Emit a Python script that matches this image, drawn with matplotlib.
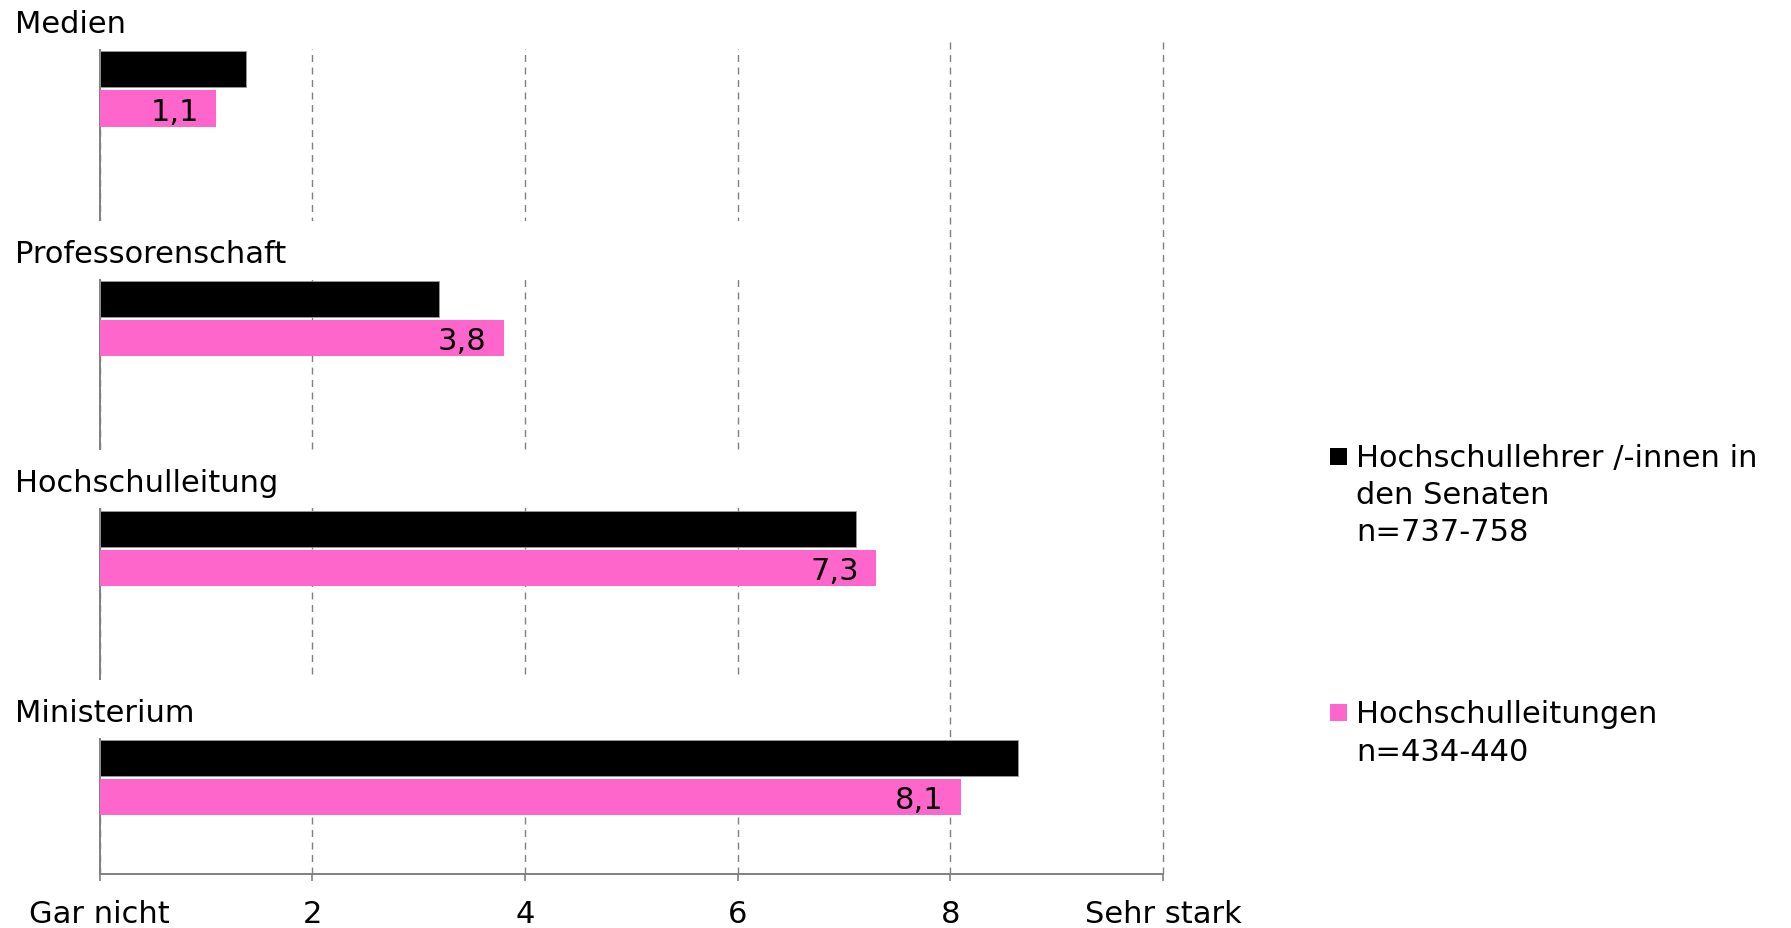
import matplotlib
matplotlib.use("Agg")
import matplotlib.pyplot as plt
import matplotlib.transforms as mtransforms
from matplotlib.patches import Rectangle

# ---- data ----
categories = ["Medien", "Professorenschaft", "Hochschulleitung", "Ministerium"]
senate_values = [1.38, 3.19, 7.11, 8.64]      # Hochschullehrer/-innen in den Senaten
leader_values = [1.1, 3.8, 7.3, 8.1]          # Hochschulleitungen
tick_positions = [0, 2, 4, 6, 8, 10]
tick_labels = ["Gar nicht", "2", "4", "6", "8", "Sehr stark"]
legend_labels = ["Hochschullehrer /-innen in\nden Senaten\nn=737-758",
                 "Hochschulleitungen\nn=434-440"]
colors = ["#000000", "#FF66CC"]

W, H = 1791, 929
FS = 22
GRAY = "#808080"

fig = plt.figure(figsize=(W / 100, H / 100), dpi=100)
ax = fig.add_axes([99.5 / W, 1 - 875 / H, 1063.5 / W, 833 / H])

bar_h = 0.157
offset = 0.17
ys = list(range(len(categories)))

ax.barh([y for y in ys], senate_values, height=bar_h, color=colors[0],
        edgecolor="#9a9a9a", linewidth=0.6, zorder=3)
ax.barh([y + offset for y in ys], leader_values, height=bar_h, color=colors[1],
        edgecolor="none", zorder=3)

ax.set_xlim(0, 10)
ax.set_ylim(3.505, -0.124)

# grid
ax.set_axisbelow(True)
ax.xaxis.grid(True, color=GRAY, linestyle=(0, (5, 4)), linewidth=1.0)
ax.yaxis.grid(False)
ax.set_yticks([])
ax.set_xticks(tick_positions)
ax.set_xticklabels(tick_labels, fontsize=FS)
ax.tick_params(axis="x", direction="out", length=5, width=1.2, color=GRAY, pad=13)
for gl in ax.get_xgridlines():
    gl.set_clip_on(False)

for s in ["top", "right"]:
    ax.spines[s].set_visible(False)
for s in ["left", "bottom"]:
    ax.spines[s].set_color(GRAY)
    ax.spines[s].set_linewidth(1.4)

# white bands interrupting grid/spine above each group (label area)
for i in ys:
    top = -0.15 if i == 0 else i - 0.342
    ax.axhspan(top, i - 0.089, xmin=-0.01, xmax=0.70, facecolor="white",
               edgecolor="none", zorder=2.6, clip_on=False)

# category labels
trans = mtransforms.blended_transform_factory(fig.transFigure, ax.transData)
for i, cat in enumerate(categories):
    ax.text(15.5 / W, i - 0.163, cat, transform=trans, fontsize=FS,
            ha="left", va="baseline", clip_on=False, zorder=5)

# value labels on pink bars
for i, v in enumerate(leader_values):
    ax.text(v - 0.16, i + offset + 0.048, f"{v:.1f}".replace(".", ","),
            fontsize=FS, ha="right", va="baseline", zorder=4)

# legend (manual)
leg_y = [466.7, 723.3]
pitch = 37.3
for lab, col, yb in zip(legend_labels, colors, leg_y):
    fig.patches.append(Rectangle((1330 / W, 1 - (yb - 1.0) / H), 17 / W, 17 / H,
                                 transform=fig.transFigure, facecolor=col,
                                 edgecolor="none"))
    for k, line in enumerate(lab.split("\n")):
        fig.text(1356 / W, 1 - (yb + k * pitch) / H, line, fontsize=FS,
                 ha="left", va="baseline")

fig.savefig("out.png", dpi=100)
